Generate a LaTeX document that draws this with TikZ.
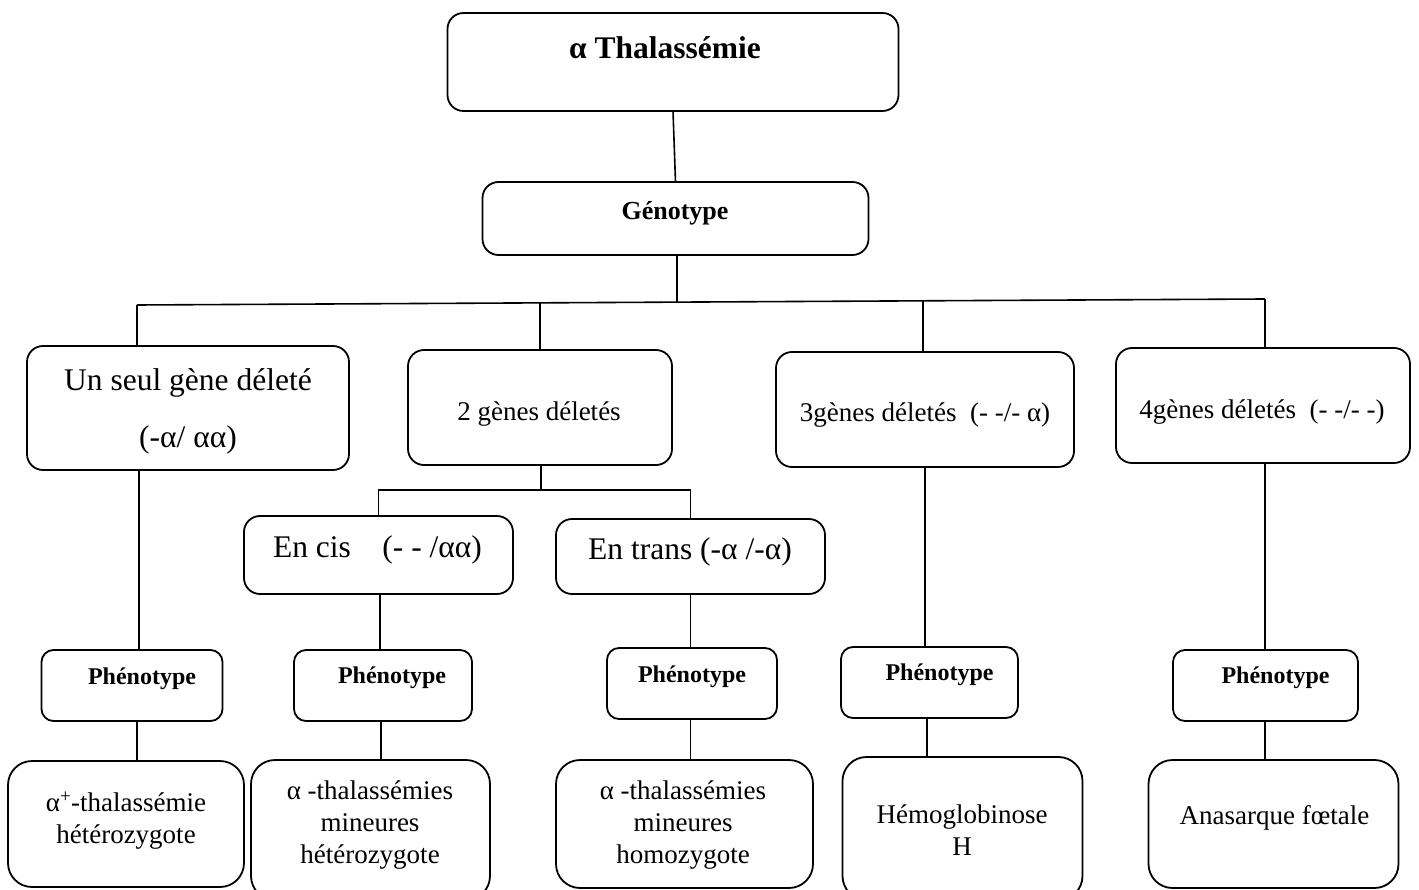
\documentclass[tikz,border=0pt]{standalone}
\usepackage{fontspec}
\setmainfont{Liberation Serif}
\begin{document}
\begin{tikzpicture}[x=1pt,y=-1pt,
  box/.style={draw, line width=1.8pt, rounded corners=16pt, inner sep=0pt, outer sep=0pt},
  pbox/.style={box, rounded corners=12pt},
  bbox/.style={box, rounded corners=24pt},
  conn/.style={line width=1.6pt},
  big/.style={font=\fontsize{31.5}{38}\selectfont, inner sep=0pt},
  med/.style={font=\fontsize{27}{32}\selectfont, inner sep=0pt, align=center},
  pheno/.style={font=\bfseries\fontsize{24}{28}\selectfont, inner sep=0pt}
]
\useasboundingbox (0,0) rectangle (1419,890);
\clip (0,0) rectangle (1419,890);

% boxes
\node[box, minimum width=451pt, minimum height=98pt] (title) at (673,62) {};
\node[box, minimum width=386pt, minimum height=73pt] (geno) at (675.5,218.5) {};
\node[box, minimum width=322pt, minimum height=124pt] (un) at (188,408) {};
\node[box, minimum width=264pt, minimum height=115pt] (deux) at (540,407.5) {};
\node[box, minimum width=298pt, minimum height=115pt] (trois) at (925,409.5) {};
\node[box, minimum width=294pt, minimum height=115pt] (quatre) at (1263,405.5) {};
\node[box, minimum width=269pt, minimum height=78pt] (cis) at (378.5,555) {};
\node[box, minimum width=269pt, minimum height=75pt] (trans) at (690.5,556.5) {};
\node[pbox, minimum width=181pt, minimum height=71pt] (p1) at (132,685.5) {};
\node[pbox, minimum width=178pt, minimum height=71pt] (p2) at (383,685.5) {};
\node[pbox, minimum width=170pt, minimum height=71pt] (p3) at (692,683.5) {};
\node[pbox, minimum width=177pt, minimum height=71pt] (p4) at (929.5,682.5) {};
\node[pbox, minimum width=185pt, minimum height=71pt] (p5) at (1265.5,685.5) {};
\node[bbox, minimum width=236pt, minimum height=126pt] (b1) at (126,824) {};
\node[bbox, minimum width=239pt, minimum height=140pt] (b2) at (370.5,830) {};
\node[bbox, minimum width=257pt, minimum height=128pt] (b3) at (684.5,824) {};
\node[bbox, minimum width=240pt, minimum height=143pt] (b4) at (962.5,828.5) {};
\node[bbox, minimum width=250pt, minimum height=128pt] (b5) at (1273.5,824) {};

% texts
\node[big, font=\bfseries\fontsize{31.5}{38}\selectfont] (titlet) at (665,48) {α Thalassémie};
\node[pheno, font=\bfseries\fontsize{26}{30}\selectfont] (genot) at (675,213) {Génotype};
\node[big] (unt1) at (188,383) {Un seul gène déleté};
\node[big] (unt2) at (188,440) {(-α/ αα)};
\node[med] (deuxt) at (539,414) {2 gènes déletés};
\node[med] (troist) at (925,415) {3gènes déletés\ \ (- -/- α)};
\node[med] (quatret) at (1262,412) {4gènes déletés\ \ (- -/- -)};
\node[big] (cist) at (377.5,550) {En cis\ \ \ \ (- - /αα)};
\node[big] (transt) at (690,552) {En trans (-α /-α)};
\node[pheno] (p1t) at (142,679) {Phénotype};
\node[pheno] (p2t) at (392,678) {Phénotype};
\node[pheno] (p3t) at (692,677) {Phénotype};
\node[pheno] (p4t) at (939.5,675) {Phénotype};
\node[pheno] (p5t) at (1275.5,678) {Phénotype};
\node[med] (b1t) at (126,821) {α\textsuperscript{+}-thalassémie\\hétérozygote};
\node[med] (b2t) at (370,825) {α -thalassémies\\mineures\\hétérozygote};
\node[med] (b3t) at (683,825) {α -thalassémies\\mineures\\homozygote};
\node[med] (b4t) at (962,830) {Hémoglobinose\\H};
\node[med] (b5t) at (1274.5,818) {Anasarque fœtale};

% columns / branch points
\coordinate (bg) at (677,302);
\coordinate (bl1) at (137,305);
\coordinate (bl2) at (540,303.5);
\coordinate (bl3) at (923,300.5);
\coordinate (bl4) at (1265,299);
\coordinate (d2) at (541,490);
\coordinate (k1) at (139,0);
\coordinate (k2) at (380,0);
\coordinate (m1) at (137,0);
\coordinate (m2) at (381,0);
\coordinate (m4) at (927,0);

% connectors
\draw[conn] (title.south) -- (geno.north);
\draw[conn] (geno.south -| bg) -- (bg);
\draw[conn] (bl1) -- (bl4);
\draw[conn] (bl1) -- (un.north -| bl1);
\draw[conn] (bl2) -- (deux.north);
\draw[conn] (bl3) -- (trois.north -| bl3);
\draw[conn] (bl4) -- (quatre.north -| bl4);
\draw[conn] (deux.south -| d2) -- (d2);
\draw[conn] (cis.north) |- (d2) -| (trans.north);
\draw[conn] (un.south -| k1) -- (p1.north -| k1);
\draw[conn] (cis.south -| k2) -- (p2.north -| k2);
\draw[conn] (trans.south) -- (p3.north -| trans.south);
\draw[conn] (trois.south) -- (p4.north -| trois.south);
\draw[conn] (quatre.south -| bl4) -- (p5.north -| bl4);
\draw[conn] (p1.south -| m1) -- (b1.north -| m1);
\draw[conn] (p2.south -| m2) -- (b2.north -| m2);
\draw[conn] (p3.south -| trans.south) -- (b3.north -| trans.south);
\draw[conn] (p4.south -| m4) -- (b4.north -| m4);
\draw[conn] (p5.south -| bl4) -- (b5.north -| bl4);
\end{tikzpicture}
\end{document}
